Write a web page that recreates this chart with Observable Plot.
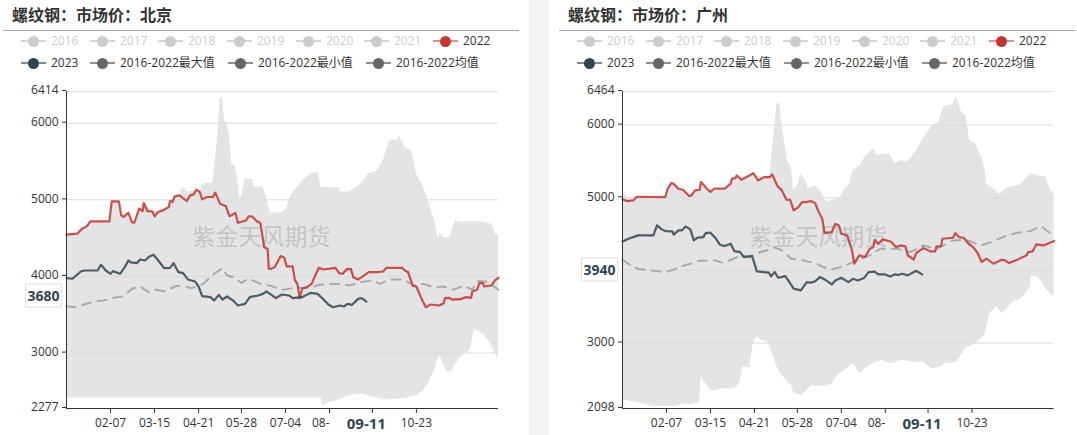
<!DOCTYPE html>
<html><head><meta charset="utf-8">
<script src="https://cdn.jsdelivr.net/npm/d3@7"></script>
<script src="https://cdn.jsdelivr.net/npm/@observablehq/plot@0.6"></script>
<style>
html,body{margin:0;padding:0;background:#fff;overflow:hidden;width:1077px;height:435px}
body,svg{font-family:"Open Sans","Noto Sans CJK SC",sans-serif}
#gap{position:absolute;left:529px;top:0;width:20px;height:435px;background:#f4f4f4}
.title{position:absolute;top:2px;font-family:"Noto Sans CJK SC",sans-serif;font-size:16px;font-weight:700;color:#333;line-height:24px;white-space:nowrap}
.rule{position:absolute;top:30px;height:1px;background:#aaa}
.lg{position:absolute;font-size:12px;line-height:16px;white-space:nowrap;color:#333}
.lg.off{color:#ccc}
.lg i{position:absolute;display:block}
.lg .ln{left:0;top:7px;width:25px;height:2px}
.lg .dt{left:7px;top:2.5px;width:11px;height:11px;border-radius:50%}
.lg span{position:absolute;left:30px;top:0}
.chart{position:absolute;top:80px}
.chart svg{display:block;overflow:visible}
</style></head>
<body><div id="gap"></div>
<script>
const legendRow1 = ["2016","2017","2018","2019","2020","2021","2022"];
const legendRow2 = ["2023","2016-2022最大值","2016-2022最小值","2016-2022均值"];
const tickDays = [37,74,111,147,184,294];
const tickLabels = ["02-07","03-15","04-21","05-28","07-04","10-23"];
const clippedTickDay = 221, clippedTickLabel = "08-";
const currentTickDay = 257, currentTickLabel = "09-11";
const watermark = "紫金天风期货";

// Beijing: [day, max, min]
const bjBand = [[0,4545,2414],[9,4558,2414],[13,4623,2414],[17,4654,2414],[20,4719,2414],[36,4719,2414],[38,4980,2414],[44,4980,2414],[46,4797,2414],[52,4832,2414],[57,4701,2414],[61,4884,2414],[65,4958,2414],[72,4850,2414],[77,4841,2414],[86,4906,2414],[89,4972,2414],[91,5046,2414],[95,5059,2414],[97,5146,2414],[100,5146,2414],[101,5102,2414],[112,5124,2414],[115,5211,2414],[123,5220,2414],[125,5516,2414],[127,5799,2414],[129,6322,2414],[131,6335,2414],[133,6017,2414],[135,6017,2414],[137,5821,2414],[139,5451,2414],[142,5451,2414],[144,5255,2414],[146,5002,2414],[148,5102,2414],[150,5268,2414],[156,5268,2414],[158,5168,2414],[165,5168,2414],[168,5037,2414],[171,4828,2414],[180,4828,2414],[185,4884,2414],[188,5037,2414],[194,5168,2414],[199,5255,2414],[206,5351,2414],[212,5351,2414],[214,5159,2414],[215,5159,2314],[221,5159,2357],[229,5159,2385],[230,5102,2401],[236,5102,2435],[238,5102,2450],[244,5168,2460],[247,5200,2466],[250,5255,2460],[254,5342,2440],[258,5360,2423],[262,5386,2410],[266,5516,2395],[269,5650,2388],[272,5778,2390],[278,5778,2398],[280,5830,2401],[285,5669,2410],[290,5647,2430],[294,5342,2445],[300,5168,2510],[304,4993,2600],[308,4797,2730],[310,4700,2815],[312,4492,2920],[314,4571,2967],[317,4505,2850],[320,4505,2750],[322,4505,2760],[324,4600,2771],[327,4732,2850],[331,4710,2946],[339,4710,3033],[343,4710,3316],[350,4710,3251],[356,4688,3130],[358,4670,3076],[360,4558,3000],[363,4536,2924]];
const bj2022 = [[0,4545],[9,4558],[13,4623],[17,4654],[20,4719],[36,4719],[38,4980],[44,4980],[46,4797],[48,4776],[52,4832],[55,4710],[57,4701],[61,4884],[64,4854],[65,4958],[68,4854],[72,4850],[74,4784],[77,4841],[81,4863],[86,4906],[87,4985],[89,4972],[91,5046],[95,5059],[101,4985],[104,5059],[107,5072],[109,5133],[112,5102],[114,5006],[118,5037],[123,5037],[125,5094],[129,4950],[134,4915],[137,4784],[142,4828],[144,4701],[151,4732],[153,4784],[156,4784],[160,4719],[162,4710],[163,4688],[165,4492],[166,4383],[169,4362],[170,4100],[172,4100],[175,4122],[180,4266],[183,4244],[185,4131],[190,4131],[192,3948],[194,3904],[196,3717],[198,3839],[202,3861],[206,3904],[209,4013],[212,4113],[216,4091],[226,4113],[229,4044],[232,4035],[236,4100],[239,4096],[241,3991],[245,3961],[248,3991],[254,4057],[261,4057],[266,4065],[269,4113],[282,4113],[285,4070],[287,4057],[291,3878],[294,3869],[299,3686],[302,3599],[306,3634],[313,3621],[317,3651],[318,3717],[322,3721],[324,3699],[331,3704],[336,3730],[340,3721],[341,3804],[345,3826],[347,3917],[350,3913],[351,3869],[357,3882],[360,3948],[363,3983]];
const bj2023 = [[0,3978],[5,3970],[12,4065],[15,4078],[26,4078],[29,4152],[33,4078],[37,4035],[39,4070],[45,4035],[49,4122],[52,4209],[54,4183],[59,4174],[62,4222],[66,4209],[69,4253],[73,4283],[76,4231],[82,4109],[87,4113],[90,4174],[94,4057],[98,4044],[102,3961],[108,3935],[111,3869],[114,3743],[121,3730],[124,3686],[128,3760],[131,3699],[135,3739],[140,3686],[144,3621],[150,3643],[154,3730],[161,3752],[165,3773],[168,3804],[171,3773],[176,3717],[181,3765],[187,3752],[190,3717],[198,3730],[205,3786],[211,3773],[216,3699],[220,3634],[224,3599],[230,3621],[233,3608],[236,3643],[240,3630],[245,3708],[248,3717],[252,3673]];
const bjAvg = [[0,3612],[7,3599],[14,3630],[24,3678],[31,3686],[42,3730],[48,3739],[55,3839],[62,3869],[69,3795],[75,3826],[82,3808],[91,3869],[97,3882],[105,3848],[115,3904],[124,4035],[131,4109],[135,4013],[140,3991],[147,3917],[153,3970],[163,3904],[171,3880],[182,3826],[192,3852],[205,3852],[213,3895],[227,3904],[238,3882],[247,3926],[258,3948],[263,3904],[272,3961],[283,3961],[292,3882],[300,3904],[308,3861],[317,3869],[325,3826],[334,3882],[341,3826],[345,3939],[353,3935],[363,3826]];

// Guangzhou: [day, max, min]
const gzBand = [[0,5056,2219],[4,5010,2210],[6,4987,2196],[13,5014,2182],[15,5010,2173],[25,5010,2127],[36,5010,2127],[38,5125,2127],[41,5203,2127],[46,5138,2127],[51,5111,2164],[57,5033,2150],[61,5102,2164],[64,5111,2173],[65,5216,2210],[66,5216,2531],[71,5125,2416],[75,5102,2338],[86,5125,2370],[92,5262,2370],[96,5308,2394],[99,5248,2472],[101,5262,2669],[107,5308,2660],[110,5340,2990],[113,5248,3091],[117,5276,3036],[121,5285,3022],[124,5285,2944],[125,5515,2898],[127,5790,2807],[130,6295,2669],[132,6304,2600],[134,6020,2554],[136,5790,2522],[139,5492,2462],[142,5423,2416],[144,5102,2311],[148,5193,2293],[150,5331,2279],[154,5239,2325],[156,5125,2370],[160,5157,2416],[163,5157,2403],[167,5079,2403],[170,4990,2403],[172,4941,2416],[176,4964,2430],[182,4996,2577],[183,5001,2586],[187,5125,2623],[191,5193,2669],[194,5377,2715],[200,5446,2577],[204,5561,2646],[211,5675,2715],[214,5584,2738],[218,5597,2761],[225,5606,2715],[229,5469,2724],[235,5515,2761],[239,5483,2752],[244,5570,2738],[247,5652,2738],[253,5813,2738],[260,5974,2646],[266,6043,2660],[270,6249,2692],[271,6258,2724],[278,6286,2724],[281,6396,2738],[285,6180,2830],[289,6134,2944],[292,5790,2944],[297,5744,2990],[302,5561,3059],[305,5377,3105],[306,5193,3197],[309,5157,3403],[310,5148,3426],[315,5079,3495],[317,5047,3449],[319,5079,3403],[324,5138,3472],[328,5157,3564],[334,5171,3596],[337,5216,3633],[343,5331,3770],[344,5331,3917],[349,5308,3917],[353,5294,3839],[356,5285,3748],[360,5102,3679],[363,5056,3633]];
const gz2022 = [[0,4978],[4,4955],[9,4964],[12,5014],[36,5010],[38,5125],[41,5203],[43,5193],[47,5125],[51,5111],[56,5024],[58,5033],[61,5102],[65,5111],[66,5216],[68,5184],[71,5125],[74,5079],[77,5125],[86,5125],[91,5193],[92,5262],[95,5271],[96,5308],[100,5248],[105,5294],[107,5308],[110,5340],[114,5239],[119,5285],[124,5285],[126,5322],[130,5170],[134,5102],[138,4973],[141,4973],[144,4826],[148,4872],[151,4941],[155,4941],[158,4955],[162,4927],[165,4803],[168,4711],[170,4514],[176,4528],[179,4643],[182,4620],[184,4505],[189,4482],[193,4275],[195,4092],[199,4207],[204,4184],[208,4298],[211,4321],[212,4422],[215,4367],[219,4427],[226,4395],[230,4321],[234,4344],[238,4330],[240,4207],[245,4147],[247,4239],[253,4308],[259,4262],[263,4262],[264,4330],[268,4335],[269,4436],[278,4450],[280,4514],[283,4459],[287,4450],[291,4367],[295,4321],[299,4230],[302,4115],[306,4161],[312,4092],[319,4147],[322,4138],[325,4101],[331,4138],[340,4207],[341,4248],[345,4262],[348,4358],[354,4344],[363,4404]];
const gz2023 = [[0,4399],[5,4436],[13,4482],[26,4482],[29,4620],[33,4565],[36,4542],[42,4537],[43,4491],[47,4551],[50,4551],[53,4606],[57,4565],[60,4413],[63,4450],[68,4459],[70,4514],[74,4519],[78,4450],[82,4353],[86,4335],[91,4367],[94,4266],[99,4252],[102,4184],[109,4197],[113,3986],[123,3968],[125,3917],[128,3977],[131,3899],[137,3922],[144,3748],[150,3725],[155,3839],[158,3830],[162,3849],[166,3908],[170,3876],[176,3807],[179,3862],[184,3899],[190,3839],[194,3885],[198,3862],[203,3894],[207,3977],[212,3982],[215,3945],[221,3945],[225,3917],[229,3945],[232,3936],[235,3954],[240,3931],[247,3995],[252,3945]];
const gzAvg = [[0,4151],[6,4078],[13,4023],[23,4000],[36,3977],[43,4009],[50,4060],[57,4092],[63,4129],[71,4138],[78,4138],[85,4101],[92,4151],[100,4207],[107,4193],[114,4243],[121,4275],[127,4321],[134,4275],[142,4161],[152,4138],[163,4092],[169,4046],[175,4009],[186,4055],[197,4138],[208,4207],[217,4298],[231,4298],[242,4252],[253,4344],[264,4298],[278,4413],[289,4422],[301,4344],[310,4390],[320,4459],[331,4514],[343,4542],[352,4610],[363,4468]];

const panels = [
  {title:"螺纹钢：市场价：北京", left:0, width:530, marginRight:32, lgLeft:0, ruleL:3, ruleW:516, titleL:12,
   yMin:2277, yMax:6414, yGrid:[3000,4000,5000,6000,6414], yLabels:[2277,3000,4000,5000,6000,6414], band:bjBand, y22:bj2022, y23:bj2023, avg:bjAvg,
   tipValue:3756, tipText:"3680", wmDx:-21},
  {title:"螺纹钢：市场价：广州", left:556.4, width:520.6, marginRight:23, lgLeft:556, ruleL:559, ruleW:516, titleL:568,
   yMin:2098, yMax:6464, yGrid:[3000,4000,5000,6000,6464], yLabels:[2098,3000,5000,6000,6464], band:gzBand, y22:gz2022, y23:gz2023, avg:gzAvg,
   tipValue:4014, tipText:"3940", wmDx:-20}
];

const row1X = [21,90,158,227,296,364,433];
const row2X = [21,90,228,366];
const swatch = {
  off:["#d6d6d6","#ccc"], "2022":["#e2908d","#c23531"], "2023":["#7d8b95","#2f4554"], stat:["#8f8f8f","#666"]
};
function legendItem(x, y, text, key, off){
  const el = document.createElement("div");
  el.className = "lg" + (off ? " off" : "");
  el.style.left = x + "px"; el.style.top = y + "px"; el.style.width = "125px"; el.style.height = "16px";
  const [ln, dt] = swatch[key];
  el.innerHTML = `<i class="ln" style="background:${ln}"></i><i class="dt" style="background:${dt}"></i><span>${text}</span>`;
  document.body.appendChild(el);
}
function addDiv(cls, style, text){
  const el = document.createElement("div"); el.className = cls;
  Object.assign(el.style, style); if (text) el.textContent = text;
  document.body.appendChild(el); return el;
}

for (const p of panels) {
  addDiv("title", {left:p.titleL+"px"}, p.title);
  addDiv("rule", {left:p.ruleL+"px", width:p.ruleW+"px"});
  legendRow1.forEach((t,i)=>legendItem(p.lgLeft+row1X[i], 33, t, t==="2022"?"2022":"off", t!=="2022"));
  legendRow2.forEach((t,i)=>legendItem(p.lgLeft+row2X[i], 55, t, t==="2023"?"2023":"stat", false));

  const xy = a => a.map(([d,v])=>({d,v}));
  const band = p.band.map(([d,hi,lo])=>({d,hi,lo}));
  const chart = Plot.plot({
    width:p.width, height:355, marginLeft:66, marginRight:p.marginRight, marginTop:11, marginBottom:27,
    style:{fontFamily:'"Open Sans","Noto Sans CJK SC",sans-serif', fontSize:"12px", color:"#333", background:"transparent", overflow:"visible"},
    x:{domain:[0,363], axis:null},
    y:{domain:[p.yMin,p.yMax], axis:null},
    marks:[
      Plot.areaY(band,{x:"d",y1:"lo",y2:"hi",fill:"#e4e4e4"}),
      Plot.ruleY(p.yGrid,{stroke:"#dcdcdc",strokeWidth:1}),
      Plot.text([watermark],{frameAnchor:"middle",dx:p.wmDx,dy:-12.5,fontSize:23,fill:"#c4c4c4",fontFamily:'"Noto Sans CJK SC",sans-serif'}),
      Plot.line(xy(p.avg),{x:"d",y:"v",stroke:"#aaa",strokeWidth:2,strokeDasharray:"9,7"}),
      Plot.line(xy(p.y22),{x:"d",y:"v",stroke:"#c23531",strokeOpacity:.85,strokeWidth:2.2}),
      Plot.line(xy(p.y23),{x:"d",y:"v",stroke:"#2f4554",strokeOpacity:.85,strokeWidth:2.2}),
      Plot.ruleX([0],{stroke:"#333",strokeWidth:1}),
      Plot.ruleY([p.yMin],{stroke:"#333",strokeWidth:1}),
      Plot.axisY(p.yLabels,{anchor:"left",tickSize:4,tickPadding:4,fontSize:12,dy:-1,label:null,stroke:"#333",tickFormat:d=>String(d)}),
      Plot.axisX(tickDays,{anchor:"bottom",tickSize:5,tickPadding:5,fontSize:12,label:null,stroke:"#333",tickFormat:d=>tickLabels[tickDays.indexOf(d)]}),
      Plot.axisX([clippedTickDay],{anchor:"bottom",tickSize:5,tickPadding:5,fontSize:12,label:null,stroke:"#333",textAnchor:"end",tickFormat:()=>clippedTickLabel}),
      Plot.axisX([currentTickDay],{anchor:"bottom",tickSize:5,tickPadding:5,fontSize:15,fontWeight:"bold",fill:"#2f4554",label:null,stroke:"#333",tickFormat:()=>currentTickLabel}),
      Plot.tip([{d:0,v:p.tipValue,t:p.tipText}],{x:"d",y:"v",title:"t",anchor:"right",dx:-3,fontSize:14,fontWeight:"bold",fill:"#fff",stroke:"#ddd",pathFilter:"none",textPadding:2,pointerSize:4})
    ]
  });
  const box = addDiv("chart", {left:p.left+"px", width:p.width+"px"});
  box.appendChild(chart);
  chart.querySelectorAll('[aria-label="tip"] text').forEach(t=>{t.setAttribute("fill","#2f4554");t.style.fill="#2f4554";});
  chart.querySelectorAll("text").forEach(t=>{
    if (!t.textContent.trim()) t.remove();
    else if (t.textContent === currentTickLabel) t.setAttribute("dx","-6");
  });
}
</script></body></html>
